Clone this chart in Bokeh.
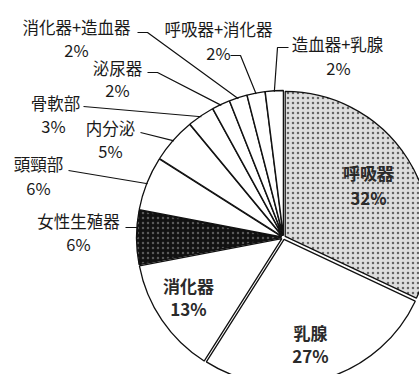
import math
from bokeh.plotting import figure
from bokeh.models import Range1d, ColumnDataSource
from bokeh.core.properties import value
from bokeh.embed import file_html
from bokeh.resources import INLINE

# ---- data ----
categories = ["呼吸器", "乳腺", "消化器", "女性生殖器", "頭頸部", "内分泌",
              "骨軟部", "泌尿器", "消化器+造血器", "呼吸器+消化器", "造血器+乳腺"]
values = [32, 27, 13, 6, 6, 5, 3, 2, 2, 2, 2]
pct_labels = [f"{v}%" for v in values]

# ---- styles / layout ----
W, H = 419, 374
CX, CY, R = 283, H - 237, 145
EXPLODE = 2.0
FONT = value("Noto Sans CJK JP")
fills = ["#dedede", "#ffffff", "#ffffff", "#111111", "#ffffff", "#ffffff",
         "#ffffff", "#ffffff", "#ffffff", "#ffffff", "#ffffff"]
hatches = ["dot", " ", " ", "dot", " ", " ", " ", " ", " ", " ", " "]
hatch_cols = ["#000000", "#000000", "#000000", "#ffffff", "#000000", "#000000",
              "#000000", "#000000", "#000000", "#000000", "#000000"]
hatch_alphas = [0.55, 0, 0, 0.3, 0, 0, 0, 0, 0, 0, 0]

total = sum(values)
starts, ends, mids, xs, ys = [], [], [], [], []
acc = 0.0
for v in values:
    a0 = math.pi / 2 - 2 * math.pi * acc / total
    acc += v
    a1 = math.pi / 2 - 2 * math.pi * acc / total
    m = (a0 + a1) / 2
    starts.append(a0)
    ends.append(a1)
    mids.append(m)
    xs.append(CX + EXPLODE * math.cos(m))
    ys.append(CY + EXPLODE * math.sin(m))

p = figure(width=W, height=H, x_range=Range1d(0, W), y_range=Range1d(0, H),
           x_axis_type=None, y_axis_type=None, min_border=0,
           toolbar_location=None, output_backend="svg")
p.grid.visible = False
p.outline_line_color = None
p.background_fill_color = "#ffffff"
p.border_fill_color = "#ffffff"

src = ColumnDataSource(dict(x=xs, y=ys, start=starts, end=ends, fill=fills,
                            hatch=hatches, hcol=hatch_cols, halpha=hatch_alphas,
                            cat=categories))
p.wedge(x="x", y="y", radius=R, start_angle="start", end_angle="end",
        direction="clock", source=src, fill_color="fill",
        hatch_pattern="hatch", hatch_color="hcol", hatch_scale=5,
        hatch_weight=1.2, hatch_alpha="halpha",
        line_color="#111111", line_width=1.3)

# inner labels (indices 0,1,2)
inner_idx = [0, 1, 2]
inner_pos = [(368, 172, 197), (310, 332, 355), (188, 285, 308)]
ix, iy, itext = [], [], []
for i, (lx, ly1, ly2) in zip(inner_idx, inner_pos):
    ix += [lx, lx]
    iy += [H - ly1, H - ly2]
    itext += [categories[i], pct_labels[i]]
p.text(x=ix, y=iy, text=itext, text_font=FONT, text_font_size="17px",
       text_font_style="bold", text_color="#2a2a2a",
       text_align="center", text_baseline="middle")

# outer labels with leader lines: (index, name_xy, pct_xy, knee points)
outer = [
    (3, (78, 220), (78, 243), [(125, 227), (137, 227)]),
    (4, (38, 163), (38, 187), [(68, 170)]),
    (5, (110, 127), (110, 150), [(140, 132)]),
    (6, (55, 102), (53, 125), [(83, 106)]),
    (7, (117, 67), (117, 89), [(147, 72), (157, 72)]),
    (8, (76, 26), (76, 49), [(137, 32), (147, 32)]),
    (9, (218, 28), (218, 52), [(230, 55), (240, 55)]),
    (10, (337, 43), (338, 67), [(288, 47), (277, 47)]),
]
ox, oy, otext, lxs, lys = [], [], [], [], []
for i, npos, ppos, knees in outer:
    ox += [npos[0], ppos[0]]
    oy += [H - npos[1], H - ppos[1]]
    otext += [categories[i], pct_labels[i]]
    ax = xs[i] + (R - 1) * math.cos(mids[i])
    ay = ys[i] + (R - 1) * math.sin(mids[i])
    lxs.append([k[0] for k in knees] + [ax])
    lys.append([H - k[1] for k in knees] + [ay])

p.multi_line(xs=lxs, ys=lys, line_color="#111111", line_width=1.2)
p.text(x=ox, y=oy, text=otext, text_font=FONT, text_font_size="16.5px",
       text_color="#1a1a1a", text_align="center", text_baseline="middle")

open("out.html", "w").write(file_html(p, INLINE))
